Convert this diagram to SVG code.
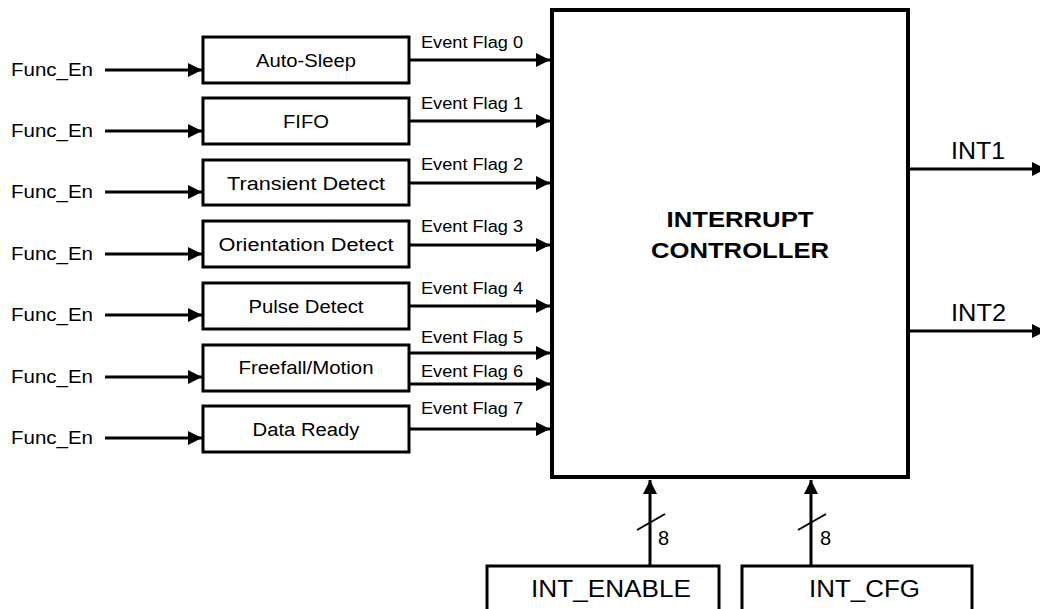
<svg xmlns="http://www.w3.org/2000/svg" width="1040" height="609" viewBox="0 0 1040 609">
<style>
text{font-family:"Liberation Sans",Arial,sans-serif;fill:#000}
.box{fill:#fff;stroke:#000;stroke-width:3}
.main{fill:#fff;stroke:#000;stroke-width:4}
.w{stroke:#000;stroke-width:3;fill:none}
.arr{stroke:#000;stroke-width:3;fill:none;marker-end:url(#ah)}
.lbl{font-size:18px;text-anchor:middle}
.fe{font-size:18px}
.num{font-size:20px}
.ef{font-size:16px}
.big{font-size:23px}
.bold{font-size:22px;font-weight:bold;text-anchor:middle}
</style>
<defs>
<marker id="ah" markerUnits="userSpaceOnUse" markerWidth="14" markerHeight="14" refX="14" refY="7" orient="auto">
<path d="M0,0 L14,7 L0,14 z" fill="#000"/>
</marker>
</defs>

<g id="controller">
<rect class="main" x="552" y="10" width="356" height="467"/>
<text class="bold" x="740" y="227" textLength="147" lengthAdjust="spacingAndGlyphs">INTERRUPT</text>
<text class="bold" x="740" y="258" textLength="178" lengthAdjust="spacingAndGlyphs">CONTROLLER</text>
</g>

<g id="auto-sleep"><rect class="box" x="203" y="37" width="206" height="46"/><text class="lbl" x="306" y="67" textLength="100" lengthAdjust="spacingAndGlyphs">Auto-Sleep</text></g>
<g id="fifo"><rect class="box" x="203" y="98" width="206" height="46"/><text class="lbl" x="306" y="128" textLength="46" lengthAdjust="spacingAndGlyphs">FIFO</text></g>
<g id="transient"><rect class="box" x="203" y="160" width="206" height="45"/><text class="lbl" x="306" y="190" textLength="158" lengthAdjust="spacingAndGlyphs">Transient Detect</text></g>
<g id="orientation"><rect class="box" x="203" y="221" width="206" height="46"/><text class="lbl" x="306" y="251" textLength="175" lengthAdjust="spacingAndGlyphs">Orientation Detect</text></g>
<g id="pulse"><rect class="box" x="203" y="283" width="206" height="46"/><text class="lbl" x="306" y="313" textLength="115" lengthAdjust="spacingAndGlyphs">Pulse Detect</text></g>
<g id="freefall"><rect class="box" x="203" y="345" width="206" height="46"/><text class="lbl" x="306" y="374" textLength="135" lengthAdjust="spacingAndGlyphs">Freefall/Motion</text></g>
<g id="data-ready"><rect class="box" x="203" y="406" width="206" height="46"/><text class="lbl" x="306" y="436" textLength="107" lengthAdjust="spacingAndGlyphs">Data Ready</text></g>

<g id="int-enable"><rect class="box" x="487" y="566" width="232" height="60"/><text class="big" x="531" y="597" textLength="160" lengthAdjust="spacingAndGlyphs">INT_ENABLE</text></g>
<g id="int-cfg"><rect class="box" x="742" y="566" width="230" height="60"/><text class="big" x="809" y="597" textLength="111" lengthAdjust="spacingAndGlyphs">INT_CFG</text></g>

<g id="inputs">
<text class="fe" x="11" y="76" textLength="82" lengthAdjust="spacingAndGlyphs">Func_En</text>
<text class="fe" x="11" y="137" textLength="82" lengthAdjust="spacingAndGlyphs">Func_En</text>
<text class="fe" x="11" y="198" textLength="82" lengthAdjust="spacingAndGlyphs">Func_En</text>
<text class="fe" x="11" y="260" textLength="82" lengthAdjust="spacingAndGlyphs">Func_En</text>
<text class="fe" x="11" y="321" textLength="82" lengthAdjust="spacingAndGlyphs">Func_En</text>
<text class="fe" x="11" y="383" textLength="82" lengthAdjust="spacingAndGlyphs">Func_En</text>
<text class="fe" x="11" y="444" textLength="82" lengthAdjust="spacingAndGlyphs">Func_En</text>
</g>

<g id="connectors">
<line class="arr" x1="105" y1="70" x2="202" y2="70"/>
<line class="arr" x1="105" y1="131" x2="202" y2="131"/>
<line class="arr" x1="105" y1="192" x2="202" y2="192"/>
<line class="arr" x1="105" y1="254" x2="202" y2="254"/>
<line class="arr" x1="105" y1="315" x2="202" y2="315"/>
<line class="arr" x1="105" y1="377" x2="202" y2="377"/>
<line class="arr" x1="105" y1="438" x2="202" y2="438"/>

<line class="arr" x1="409" y1="60" x2="550" y2="60"/>
<line class="arr" x1="409" y1="121" x2="550" y2="121"/>
<line class="arr" x1="409" y1="183" x2="550" y2="183"/>
<line class="arr" x1="409" y1="245" x2="550" y2="245"/>
<line class="arr" x1="409" y1="306" x2="550" y2="306"/>
<line class="arr" x1="409" y1="353" x2="550" y2="353"/>
<line class="arr" x1="409" y1="384" x2="550" y2="384"/>
<line class="arr" x1="409" y1="429" x2="550" y2="429"/>

<line class="arr" x1="908" y1="169" x2="1046" y2="169"/>
<line class="arr" x1="908" y1="331" x2="1046" y2="331"/>

<line class="arr" x1="650" y1="566" x2="650" y2="480"/>
<line class="arr" x1="811" y1="566" x2="811" y2="480"/>
<line class="w" x1="637" y1="530" x2="665" y2="514" style="stroke-width:2"/>
<line class="w" x1="798" y1="530" x2="826" y2="514" style="stroke-width:2"/>
</g>

<g id="labels">
<text class="ef" x="421" y="48" textLength="102" lengthAdjust="spacingAndGlyphs">Event Flag 0</text>
<text class="ef" x="421" y="109" textLength="102" lengthAdjust="spacingAndGlyphs">Event Flag 1</text>
<text class="ef" x="421" y="170" textLength="102" lengthAdjust="spacingAndGlyphs">Event Flag 2</text>
<text class="ef" x="421" y="232" textLength="102" lengthAdjust="spacingAndGlyphs">Event Flag 3</text>
<text class="ef" x="421" y="294" textLength="102" lengthAdjust="spacingAndGlyphs">Event Flag 4</text>
<text class="ef" x="421" y="343" textLength="102" lengthAdjust="spacingAndGlyphs">Event Flag 5</text>
<text class="ef" x="421" y="377" textLength="102" lengthAdjust="spacingAndGlyphs">Event Flag 6</text>
<text class="ef" x="421" y="414" textLength="102" lengthAdjust="spacingAndGlyphs">Event Flag 7</text>
<text class="big" x="951" y="159" textLength="54" lengthAdjust="spacingAndGlyphs">INT1</text>
<text class="big" x="951" y="321" textLength="55" lengthAdjust="spacingAndGlyphs">INT2</text>
<text class="num" x="658" y="545">8</text>
<text class="num" x="820" y="545">8</text>
</g>
</svg>
